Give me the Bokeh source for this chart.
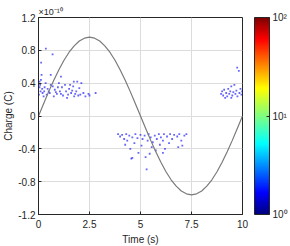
import numpy as np
from bokeh.plotting import figure
from bokeh.models import (ColorBar, LogColorMapper, FixedTicker, CustomJSTickFormatter,
                          ColumnDataSource)
from bokeh.embed import file_html
from bokeh.resources import INLINE

# ---------------- data (charge in units of 1e-10 C) ----------------
line_t = [i * 0.25 for i in range(41)]
line_q = [0.000, 0.150, 0.297, 0.436, 0.564, 0.679, 0.777, 0.855, 0.913, 0.948, 0.960,
          0.948, 0.913, 0.855, 0.777, 0.679, 0.564, 0.436, 0.297, 0.150, 0.000,
          -0.150, -0.297, -0.436, -0.564, -0.679, -0.777, -0.855, -0.913, -0.948, -0.960,
          -0.948, -0.913, -0.855, -0.777, -0.679, -0.564, -0.436, -0.297, -0.150, 0.000]

pts_t = [0.36, 0.69, 0.13, 0.15, 0.60, 1.10, 0.05, 0.08, 0.12, 0.30, 0.45, 0.50, 0.55, 0.70,
         0.80, 0.90, 1.00, 1.05, 1.15, 1.20, 1.30, 1.35, 1.45, 1.50, 1.60, 1.70, 1.75, 1.85,
         1.90, 2.00, 2.05, 2.10, 2.20, 2.30, 2.45, 0.20, 0.25, 0.10, 0.02, 0.35, 0.60, 0.75,
         0.95, 1.10, 1.73, 1.40, 1.55, 1.65, 1.80, 1.95, 0.40, 0.85, 0.05, 0.18, 0.28, 2.80,
         2.50,
         3.90, 4.00, 4.10, 4.20, 4.30, 4.35, 4.45, 4.50, 4.60, 4.70, 4.75, 4.85, 4.90, 5.00,
         5.05, 5.10, 5.20, 5.25, 5.30, 5.35, 5.40, 5.50, 5.55, 5.60, 5.70, 5.75, 5.80, 5.90,
         5.95, 6.00, 6.10, 6.15, 6.20, 6.30, 6.40, 6.45, 6.55, 6.65, 6.80, 6.90, 7.00, 7.05,
         7.15, 7.25, 4.55, 4.25, 6.10, 5.45, 4.60, 6.85,
         9.74, 9.82, 8.95, 9.00, 9.05, 9.10, 9.20, 9.25, 9.30, 9.35, 9.40, 9.45, 9.50, 9.55,
         9.60, 9.65, 9.70, 9.75, 9.85, 9.90, 9.95, 9.98, 9.15, 9.45]
pts_q = [0.82, 0.75, 0.65, 0.50, 0.50, 0.48, 0.42, 0.38, 0.44, 0.35, 0.33, 0.30, 0.28, 0.36,
         0.32, 0.27, 0.40, 0.30, 0.35, 0.25, 0.38, 0.30, 0.26, 0.33, 0.28, 0.36, 0.24, 0.30,
         0.42, 0.34, 0.26, 0.40, 0.28, 0.24, 0.27, 0.28, 0.24, 0.30, 0.26, 0.40, 0.38, 0.24,
         0.35, 0.27, 0.42, 0.22, 0.38, 0.31, 0.27, 0.25, 0.26, 0.29, 0.35, 0.33, 0.30, 0.28,
         0.25,
         -0.22, -0.25, -0.23, -0.28, -0.22, -0.30, -0.24, -0.40, -0.26, -0.33, -0.22, -0.27,
         -0.45, -0.23, -0.36, -0.28, -0.24, -0.50, -0.65, -0.30, -0.22, -0.26, -0.38, -0.32,
         -0.24, -0.42, -0.28, -0.22, -0.35, -0.26, -0.30, -0.22, -0.40, -0.25, -0.33, -0.22,
         -0.28, -0.23, -0.25, -0.22, -0.30, -0.36, -0.24, -0.22, -0.52, -0.35, -0.45, -0.46,
         -0.51, -0.38,
         0.59, 0.55, 0.27, 0.30, 0.25, 0.32, 0.28, 0.24, 0.33, 0.27, 0.30, 0.36, 0.25, 0.29,
         0.38, 0.27, 0.31, 0.24, 0.28, 0.33, 0.26, 0.30, 0.22, 0.22]
pts_count = [1.6] * len(pts_t)

x_ticks = [0, 2.5, 5, 7.5, 10]
y_ticks = [-1.2, -0.8, -0.4, 0, 0.4, 0.8, 1.2]
cb_ticks = [1, 10, 100]
cb_labels = {1: "10⁰", 10: "10¹", 100: "10²"}

# jet palette
anchors = np.array([[0, 0, 0.5], [0, 0, 1], [0, 1, 1], [1, 1, 0], [1, 0, 0], [0.5, 0, 0]])
apos = np.array([0, 0.11, 0.36, 0.64, 0.89, 1.0])
pal = []
for s in np.linspace(0, 1, 256):
    rgb = [np.interp(s, apos, anchors[:, k]) for k in range(3)]
    pal.append("#%02x%02x%02x" % tuple(int(round(c * 255)) for c in rgb))

FONT = "Liberation Sans"
AX = "#262626"

p = figure(output_backend="svg", toolbar_location=None,
           x_range=(0, 10), y_range=(-1.2, 1.2),
           frame_width=204, frame_height=197, min_border_left=28, min_border_top=17,
           min_border_bottom=0, min_border_right=2,
           title="×10⁻¹⁰")
p.title.text_font = FONT
p.title.text_font_size = "9px"
p.title.text_font_style = "normal"
p.title.text_color = AX
p.title.offset = 0
p.title.standoff = 2
p.background_fill_color = "white"
p.border_fill_color = "white"
p.outline_line_color = AX
p.outline_line_width = 1

for ax in (p.xaxis[0], p.yaxis[0]):
    ax.axis_line_color = AX
    ax.major_tick_line_color = AX
    ax.major_tick_in = 3
    ax.major_tick_out = 0
    ax.minor_tick_line_color = None
    ax.major_label_text_font = FONT
    ax.major_label_text_font_size = "10px"
    ax.major_label_text_color = AX
    ax.axis_label_text_font = FONT
    ax.axis_label_text_font_size = "10px"
    ax.axis_label_text_font_style = "normal"
    ax.axis_label_text_color = AX
    ax.major_label_standoff = 3
    ax.axis_label_standoff = 1

p.xaxis.ticker = FixedTicker(ticks=x_ticks)
p.yaxis.ticker = FixedTicker(ticks=y_ticks)
fmt = CustomJSTickFormatter(code="return String(Math.round(tick*10)/10);")
p.xaxis.formatter = fmt
p.yaxis.formatter = fmt
p.xaxis.axis_label = "Time (s)"
p.yaxis.axis_label = "Charge (C)"
p.xaxis.major_label_standoff = 5
p.xaxis.axis_label_standoff = 3

p.grid.grid_line_color = "#dcdcdc"
p.grid.grid_line_width = 1

src = ColumnDataSource(dict(t=pts_t, q=pts_q, c=pts_count))
mapper = LogColorMapper(palette=pal, low=1, high=100)
p.scatter("t", "q", source=src, size=1.8, marker="square",
          fill_color={"field": "c", "transform": mapper}, line_color=None, fill_alpha=0.6)

p.line(line_t, line_q, line_color="#7a7a7a", line_width=1.2)

cb = ColorBar(color_mapper=mapper, ticker=FixedTicker(ticks=cb_ticks),
              major_label_overrides=cb_labels, width=15, height=197,
              padding=0, margin=0, location=(12, 0),
              major_label_text_font=FONT, major_label_text_font_size="10px",
              major_label_text_color=AX, major_tick_line_color=AX,
              major_tick_in=3, major_tick_out=0, minor_tick_line_color=None,
              bar_line_color=AX, label_standoff=3, background_fill_color=None,
              border_line_color=None)
p.add_layout(cb, "right")

open("out.html", "w").write(file_html(p, INLINE))
